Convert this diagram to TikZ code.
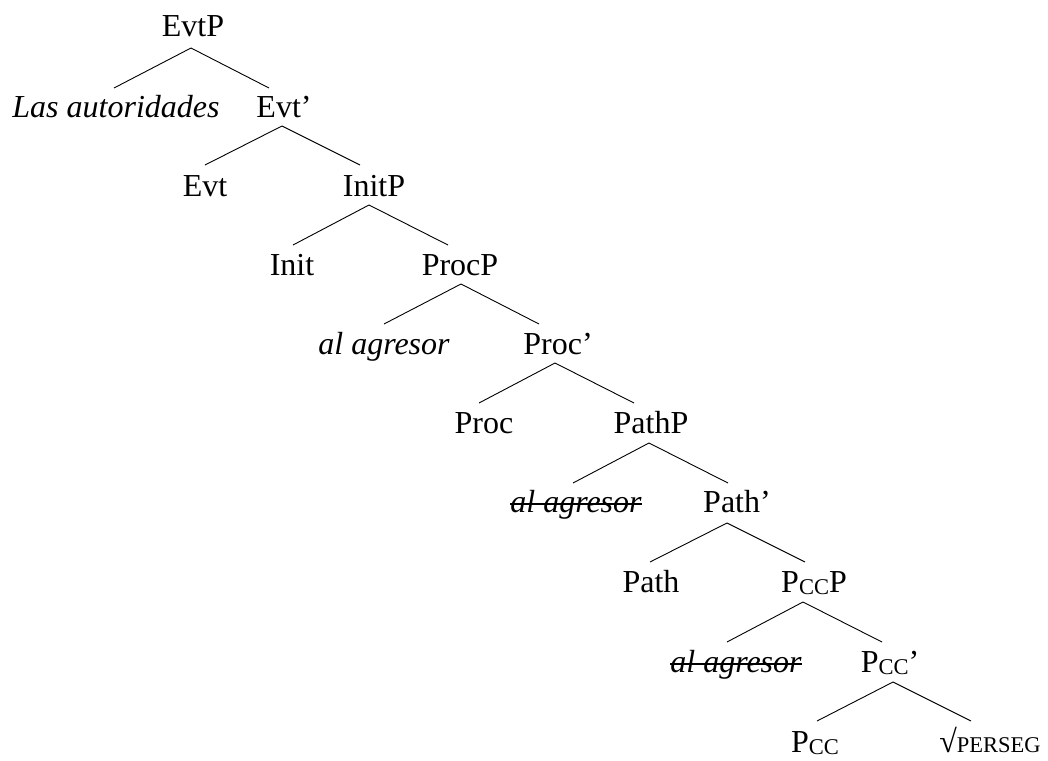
\documentclass[tikz,border=0pt]{standalone}
\usepackage{fontspec}
\setmainfont{Liberation Serif}
\usetikzlibrary{calc}
\newcommand{\smc}[1]{{\fontsize{22.5}{22.5}\selectfont #1}}
\begin{document}
\begin{tikzpicture}[x=1pt,y=-1pt,
  lbl/.style={anchor=base,inner sep=0pt,outer sep=0pt,font=\fontsize{32}{32}\selectfont},
  itl/.style={lbl,font=\fontsize{32}{32}\selectfont\itshape},
  branch/.style={line width=0.9pt},
  strike/.style={line width=2.3pt}]
\useasboundingbox (0,0) rectangle (1048,760);
% nodes
\node[lbl] (EvtP)  at (193,37)  {EvtP};
\node[itl] (las)   at (116,117) {Las autoridades};
\node[lbl] (evtb)  at (284,117) {Evt’};
\node[lbl] (evt)   at (205,196) {Evt};
\node[lbl] (initP) at (374,196) {InitP};
\node[lbl] (init)  at (292,275) {Init};
\node[lbl] (procP) at (460,275) {ProcP};
\node[itl] (ag1)   at (384,354) {al agresor};
\node[lbl] (procb) at (558,354) {Proc’};
\node[lbl] (proc)  at (484,433) {Proc};
\node[lbl] (pathP) at (651,433) {PathP};
\node[itl] (ag2)   at (576,512) {al agresor};
\node[lbl] (pathb) at (737,512) {Path’};
\node[lbl] (path)  at (651,592) {Path};
\node[lbl] (pccP)  at (814,592) {P\raisebox{-2.5pt}{\smc{CC}}P};
\node[itl] (ag3)   at (736,672) {al agresor};
\node[lbl] (pccb)  at (890,672) {P\raisebox{-2.5pt}{\smc{CC}}’};
\node[lbl] (pcc)   at (815,752) {P\raisebox{-2.5pt}{\smc{CC}}};
\node[lbl] (perseg) at (990,752) {√\smc{PERSEG}};
% strike-throughs
\draw[strike] ([yshift=8pt]ag2.base west) -- ([yshift=8pt]ag2.base east);
\draw[strike] ([yshift=8pt]ag3.base west) -- ([yshift=8pt]ag3.base east);
% branches
\draw[branch] ($(EvtP.base)+(-2,11)$) -- ($(las.base)+(-2,-29)$);
\draw[branch] ($(EvtP.base)+(-2,11)$) -- ($(evtb.base)+(-15,-29)$);
\draw[branch] ($(evtb.base)+(-2,9)$) -- ($(evt.base)+(0,-31)$);
\draw[branch] ($(evtb.base)+(-2,9)$) -- ($(initP.base)+(-14,-31)$);
\draw[branch] ($(initP.base)+(-5,9)$) -- ($(init.base)+(1,-30)$);
\draw[branch] ($(initP.base)+(-5,9)$) -- ($(procP.base)+(-12,-30)$);
\draw[branch] ($(procP.base)+(1,9)$) -- ($(ag1.base)+(0,-30)$);
\draw[branch] ($(procP.base)+(1,9)$) -- ($(procb.base)+(-19,-30)$);
\draw[branch] ($(procb.base)+(-3,9)$) -- ($(proc.base)+(-5,-30)$);
\draw[branch] ($(procb.base)+(-3,9)$) -- ($(pathP.base)+(-17,-30)$);
\draw[branch] ($(pathP.base)+(-2,10)$) -- ($(ag2.base)+(-3,-29)$);
\draw[branch] ($(pathP.base)+(-2,10)$) -- ($(pathb.base)+(-9,-29)$);
\draw[branch] ($(pathb.base)+(-10,11)$) -- ($(path.base)+(-1,-30)$);
\draw[branch] ($(pathb.base)+(-10,11)$) -- ($(pccP.base)+(-9,-30)$);
\draw[branch] ($(pccP.base)+(-11,10)$) -- ($(ag3.base)+(-9,-30)$);
\draw[branch] ($(pccP.base)+(-11,10)$) -- ($(pccb.base)+(-8,-30)$);
\draw[branch] ($(pccb.base)+(3,10)$) -- ($(pcc.base)+(2,-31)$);
\draw[branch] ($(pccb.base)+(3,10)$) -- ($(perseg.base)+(-19,-31)$);
\end{tikzpicture}
\end{document}
